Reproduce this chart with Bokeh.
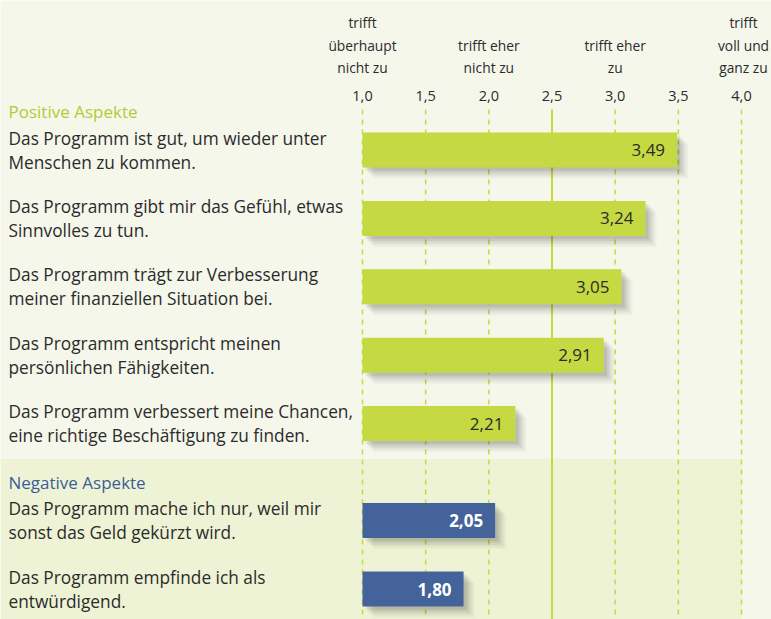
from bokeh.plotting import figure
from bokeh.models import Range1d, ColumnDataSource
from bokeh.core.properties import value
from bokeh.embed import file_html
from bokeh.resources import INLINE

# ---- data ----
groups = ["Positive Aspekte", "Negative Aspekte"]
group_items = [
    ["Das Programm ist gut, um wieder unter\nMenschen zu kommen.",
     "Das Programm gibt mir das Gefühl, etwas\nSinnvolles zu tun.",
     "Das Programm trägt zur Verbesserung\nmeiner finanziellen Situation bei.",
     "Das Programm entspricht meinen\npersönlichen Fähigkeiten.",
     "Das Programm verbessert meine Chancen,\neine richtige Beschäftigung zu finden."],
    ["Das Programm mache ich nur, weil mir\nsonst das Geld gekürzt wird.",
     "Das Programm empfinde ich als\nentwürdigend."],
]
group_values = [
    [3.49, 3.24, 3.05, 2.91, 2.21],
    [2.05, 1.80],
]
ticks = [1.0, 1.5, 2.0, 2.5, 3.0, 3.5, 4.0]
tick_labels = ["1,0", "1,5", "2,0", "2,5", "3,0", "3,5", "4,0"]
scale_pos = [1.0, 2.0, 3.0, 4.0]
scale_labels = ["trifft\nüberhaupt\nnicht zu", "trifft eher\nnicht zu",
                "trifft eher\nzu", "trifft\nvoll und\nganz zu"]

# ---- style ----
W, H = 771, 619
X0PX, X1PX = 362, 741       # pixel of 1.0 and 4.0
PXU = (X1PX - X0PX) / 3.0   # pixels per unit
BG = "#f5f7eb"
BG2 = "#eef3d5"
GREEN = "#c5d943"
BLUE = "#44639b"
GROUP_COL = ["#b3cb36", "#3a5e98"]
BAR_COL = [GREEN, BLUE]
VAL_COL = ["#2b2b2b", "#ffffff"]
VAL_STYLE = ["normal", "bold"]
TXT = "#2b2b2b"
FONT = "Open Sans"

xs = 1.0 - X0PX / PXU
xe = 1.0 + (W - X0PX) / PXU

p = figure(width=W, height=H, output_backend="svg", toolbar_location=None,
           x_range=Range1d(xs, xe), y_range=Range1d(H, 0),
           x_axis_location=None, y_axis_location=None, min_border=0,
           background_fill_color=BG, border_fill_color=BG,
           outline_line_color=None)
p.grid.visible = False

# layout of rows
BAR_H = 35
STEP = 68.4
header_y = []
bar_y = []
bar_v = []
bar_c = []
val_c = []
val_s = []
lab_lines = []
y = 111
for gi, (items, vals) in enumerate(zip(group_items, group_values)):
    header_y.append(y)
    c = y + 38.5
    for it, v in zip(items, vals):
        bar_y.append(c)
        bar_v.append(v)
        bar_c.append(BAR_COL[gi])
        val_c.append(VAL_COL[gi])
        val_s.append(VAL_STYLE[gi])
        lines = it.split("\n")
        for li, ln in enumerate(lines):
            lab_lines.append((ln, c + (li - (len(lines) - 1) / 2) * 24))
        last = c
        c += STEP
    y = last + 58.5

# lower background band for negative group
band_top = header_y[1] - 23
p.quad(left=[xs], right=[4.0], top=[band_top], bottom=[H], fill_color=BG2, line_color=None)

# grid lines
grid_top = 109
dashed = [t for t in ticks if t != 2.5]
p.segment(x0=dashed, x1=dashed, y0=[grid_top] * len(dashed), y1=[H] * len(dashed),
          line_color=GREEN, line_width=1.5, line_dash="5 5")
p.segment(x0=[2.5], x1=[2.5], y0=[grid_top], y1=[H], line_color=GREEN, line_width=2)

# shadows
for off, a in [(11, 0.03), (9, 0.04), (7, 0.05), (5, 0.06), (3, 0.07)]:
    p.quad(left=[1.0 + off / PXU] * len(bar_v), right=[v + off / PXU for v in bar_v],
           top=[b - BAR_H / 2 + off for b in bar_y], bottom=[b + BAR_H / 2 + off for b in bar_y],
           fill_color="#000000", fill_alpha=a, line_color=None)

# bars
src = ColumnDataSource(dict(left=[1.0] * len(bar_v), right=bar_v,
                            top=[b - BAR_H / 2 for b in bar_y],
                            bottom=[b + BAR_H / 2 for b in bar_y],
                            color=bar_c, y=bar_y, vc=val_c, vs=val_s,
                            lab=[f"{v:.2f}".replace(".", ",") for v in bar_v],
                            lx=[v - 12 / PXU for v in bar_v]))
p.quad(left="left", right="right", top="top", bottom="bottom", fill_color="color",
       line_color=None, source=src)
p.text(x="lx", y="y", text="lab", text_color="vc", text_align="right",
       text_baseline="middle", text_font=value(FONT), text_font_size="17px",
       text_font_style="vs", source=src)

# labels
p.text(x=[xs + 8 / PXU] * len(lab_lines), y=[l[1] for l in lab_lines],
       text=[l[0] for l in lab_lines], text_color=TXT, text_font=value(FONT),
       text_font_size="17.3px", text_baseline="middle", text_align="left")

# group headers
p.text(x=[xs + 8 / PXU] * len(groups), y=header_y, text=groups, text_color=GROUP_COL,
       text_font=value(FONT), text_font_size="17px", text_baseline="middle",
       text_align="left")

# tick labels
p.text(x=ticks, y=[95] * len(ticks), text=tick_labels, text_color=TXT,
       text_font=value(FONT), text_font_size="14.5px", text_baseline="middle",
       text_align="center")

# scale labels (bottom aligned lines)
sx, sy, st = [], [], []
for pos, lab in zip(scale_pos, scale_labels):
    lines = lab.split("\n")
    n = len(lines)
    for li, ln in enumerate(lines):
        sx.append(pos + (2 / PXU if pos == 4.0 else 0))
        sy.append(67 - (n - 1 - li) * 22.5)
        st.append(ln)
p.text(x=sx, y=sy, text=st, text_color=TXT, text_font=value(FONT),
       text_font_size="13.8px", text_baseline="middle", text_align="center")

open("out.html", "w").write(file_html(p, INLINE))
